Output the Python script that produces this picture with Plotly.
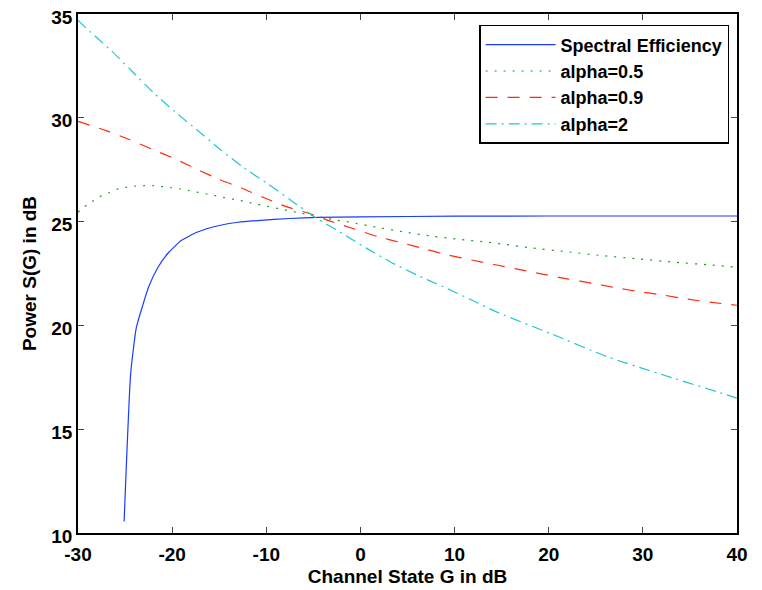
import plotly.graph_objects as go

# Spectral Efficiency
se_x = [-25.1, -24.4, -23.8, -23.1, -22.5, -21.5, -20.4, -19.0, -17.3, -15.1, -13.0, -10.9, -7.5, -4.5, 0, 10, 20, 30, 40]
se_y = [10.55, 17.7, 19.9, 21.0, 21.85, 22.8, 23.5, 24.1, 24.5, 24.8, 24.97, 25.05, 25.15, 25.2, 25.23, 25.26, 25.27, 25.27, 25.27]

# alpha = 0.5
a05_x = [-30, -29.3, -28.5, -27.7, -26.7, -25.9, -24.9, -24, -23, -22, -21, -20.1, -19.1, -18.2, -17.25, -16.3,
         -15.4, -14.4, -13.4, -12.5, -11.6, -6.8, -3.05, -1.1, 1.7, 4.55, 7.4, 10.4, 13.2, 15.2, 18, 21.9, 25.7,
         29.6, 33.4, 37.3, 40]
a05_y = [25.45, 25.72, 25.96, 26.2, 26.39, 26.55, 26.65, 26.71, 26.73, 26.73, 26.68, 26.63, 26.57, 26.49, 26.41, 26.33,
         26.25, 26.15, 26.07, 25.99, 25.9, 25.45, 25.11, 24.97, 24.73, 24.51, 24.31, 24.15, 24.02, 23.91, 23.74, 23.55, 23.36,
         23.2, 23.04, 22.91, 22.8]

# alpha = 0.9
a09_x = [-30, -27, -24.7, -22.2, -19.7, -17.4, -15.1, -12.65, -10.35, -7.9, -5.5, -3.06, -0.57, 1.9, 4.38, 6.86, 9.34,
         11.82, 14.47, 16.78, 19.44, 22.09, 24.57, 27.04, 29.7, 32.18, 34.65, 37.3, 40]
a09_y = [29.83, 29.38, 28.98, 28.5, 28.02, 27.53, 27.05, 26.62, 26.17, 25.72, 25.4, 25.0, 24.63, 24.27, 23.98, 23.68, 23.39,
         23.15, 22.91, 22.7, 22.46, 22.23, 22.03, 21.82, 21.62, 21.46, 21.27, 21.11, 20.97]

# alpha = 2
a2_x = [-30, -29.3, -26.46, -24.34, -22.03, -19.73, -17.25, -14.96, -12.47, -9.82, -7.4, -4.65, -2.17, 0.67, 3.14,
        5.97, 8.8, 11.64, 14.6, 20.14, 26.16, 31.82, 37.85, 40]
a2_y = [34.7, 34.39, 33.23, 32.28, 31.23, 30.3, 29.38, 28.5, 27.62, 26.81, 26.03, 25.16, 24.5, 23.71, 23.07,
        22.43, 21.86, 21.26, 20.62, 19.62, 18.5, 17.66, 16.81, 16.5]

names = ["Spectral Efficiency", "alpha=0.5", "alpha=0.9", "alpha=2"]
x_ticks = [-30, -20, -10, 0, 10, 20, 30, 40]
y_ticks = [10, 15, 20, 25, 30, 35]

fnt = "Liberation Sans, Arial, Helvetica, sans-serif"

fig = go.Figure()
styles = [
    ("#1a3cff", "solid", 0.5),
    ("#13a013", "2px,7px", 0.6),
    ("#ff2a10", "12px,10px", 0.6),
    ("#1ec8cc", "11px,5px,2px,5px", 0.6),
]
series = [(se_x, se_y), (a05_x, a05_y), (a09_x, a09_y), (a2_x, a2_y)]
for (xs, ys), name, (col, dash, sm) in zip(series, names, styles):
    fig.add_trace(go.Scatter(x=xs, y=ys, mode="lines", name=name,
                             line=dict(color=col, width=1.2, dash=dash,
                                       shape="spline", smoothing=sm)))

axis_common = dict(
    showline=True, linecolor="black", linewidth=1.5, mirror="ticks",
    ticks="inside", ticklen=6, tickcolor="#444", tickwidth=1,
    showgrid=False, zeroline=False, automargin=False, ticklabeloverflow="allow",
    tickfont=dict(family=fnt, size=19, color="black", weight="bold"),
)

# page body adds an 8px offset; figure sized so the plot box lands at x 78-737, y 14-533
fig.update_layout(
    width=754, height=582,
    margin=dict(l=70, r=25, t=6, b=57),
    paper_bgcolor="white", plot_bgcolor="white",
    font=dict(family=fnt, size=19, color="black", weight="bold"),
    xaxis=dict(range=[-30, 40], tickvals=x_ticks, ticktext=[str(v) for v in x_ticks],
               ticklabelstandoff=3,
               title=dict(text="Channel State G in dB", standoff=6,
                          font=dict(family=fnt, size=19, color="black", weight="bold")),
               **axis_common),
    yaxis=dict(range=[10, 35], tickvals=y_ticks, ticktext=[str(v) for v in y_ticks],
               ticklabelshift=3,
               title=dict(text="Power S(G) in dB", standoff=10,
                          font=dict(family=fnt, size=19, color="black", weight="bold")),
               **axis_common),
    legend=dict(x=0.988, y=0.979, xanchor="right", yanchor="top",
                bgcolor="white", bordercolor="black", borderwidth=1.5,
                font=dict(family=fnt, size=18, color="black", weight="bold"),
                itemwidth=70, tracegroupgap=0),
    showlegend=True,
)

fig.write_html("out.html")
